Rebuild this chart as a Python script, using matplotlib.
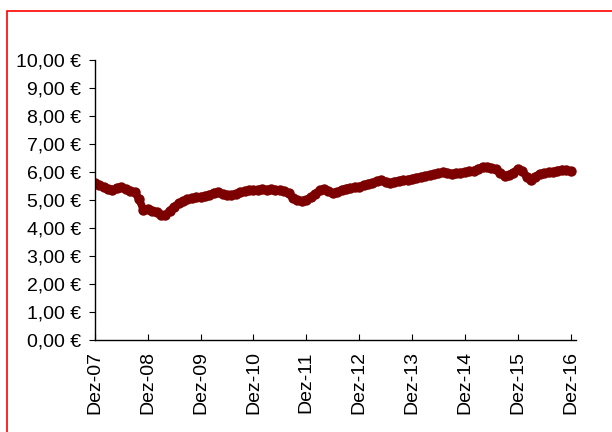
import matplotlib
matplotlib.use("Agg")
import matplotlib.pyplot as plt
import matplotlib.patches as patches
import numpy as np

# monthly closing values, Dec 2007 .. Dec 2016
prices = [5.62, 5.52, 5.45, 5.38, 5.36, 5.44, 5.46, 5.38, 5.33, 5.28,
          5.05, 4.66, 4.68, 4.62, 4.58, 4.48, 4.45, 4.62, 4.76, 4.88,
          4.95, 5.02, 5.07, 5.10, 5.12, 5.14, 5.18, 5.26, 5.28, 5.20,
          5.18, 5.18, 5.22, 5.27, 5.31, 5.34, 5.36, 5.37, 5.39, 5.37,
          5.38, 5.37, 5.35, 5.32, 5.24, 5.06, 5.00, 4.96, 5.00, 5.10,
          5.22, 5.34, 5.38, 5.33, 5.24, 5.28, 5.36, 5.41, 5.43, 5.45,
          5.48, 5.53, 5.58, 5.62, 5.67, 5.72, 5.66, 5.60, 5.66, 5.69,
          5.71, 5.73, 5.76, 5.80, 5.83, 5.86, 5.90, 5.92, 5.96, 5.99,
          5.98, 5.94, 5.95, 5.98, 6.00, 6.02, 6.05, 6.12, 6.18, 6.19,
          6.15, 6.10, 5.98, 5.86, 5.90, 5.98, 6.10, 6.05, 5.84, 5.72,
          5.84, 5.94, 5.96, 5.99, 6.01, 6.05, 6.09, 6.06, 6.04]
months = np.arange(len(prices))

tick_labels = ["Dez-07", "Dez-08", "Dez-09", "Dez-10", "Dez-11",
               "Dez-12", "Dez-13", "Dez-14", "Dez-15", "Dez-16"]
y_ticks = np.arange(0, 11, 1)

plt.rcParams['font.family'] = ['Liberation Sans', 'DejaVu Sans']

fig = plt.figure(figsize=(6.12, 4.32), dpi=100)
ax = fig.add_axes([0.155, 0.213, 0.786, 0.648])

col = '#7c0000'
ax.plot(months, prices, '-', color=col, linewidth=5.5, marker='o',
        markersize=7.5, markeredgewidth=0, solid_capstyle='round')

ax.set_xlim(0, 109.2)
ax.set_ylim(0, 10)
ax.set_yticks(y_ticks)
ax.set_yticklabels([f"{v:.2f} €".replace('.', ',') for v in y_ticks], fontsize=14)
ax.set_xticks(np.arange(0, 109, 12))
ax.set_xticklabels(tick_labels, rotation=90, fontsize=14)

for s in ['top', 'right']:
    ax.spines[s].set_visible(False)
ax.spines['left'].set_linewidth(1)
ax.spines['bottom'].set_linewidth(1)
ax.tick_params(axis='y', direction='out', length=4, pad=6)
ax.tick_params(axis='x', direction='in', length=4.5, pad=8)

border = patches.Rectangle((7 / 612, -0.1), 1.2, 1 - 11 / 432 + 0.1,
                           transform=fig.transFigure, fill=False,
                           edgecolor='red', linewidth=1.2, clip_on=False)
fig.patches.append(border)

fig.savefig("out.png", dpi=100)
